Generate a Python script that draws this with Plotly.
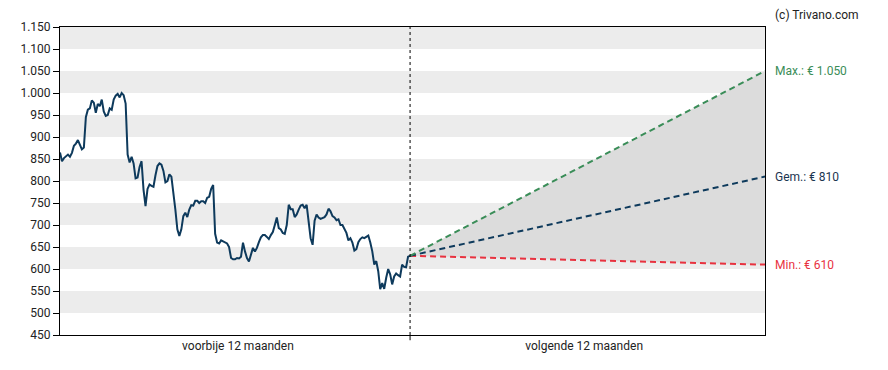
import plotly.graph_objects as go

# ---- data ----
past_prices = [
    865, 845, 852, 857, 860, 855, 864, 880, 885, 893, 884, 872, 876, 945, 962, 965,
    983, 978, 955, 975, 970, 985, 958, 948, 950, 965, 962, 985, 994, 998, 990, 1000,
    995, 976, 860, 842, 855, 840, 806, 808, 832, 845, 780, 743, 782, 792, 789, 787,
    813, 834, 840, 837, 823, 797, 800, 815, 810, 775, 735, 690, 675, 690, 720, 728,
    718, 735, 745, 744, 755, 755, 750, 754, 754, 750, 762, 764, 782, 791, 680, 660,
    658, 665, 663, 660, 658, 650, 625, 622, 622, 625, 624, 628, 660, 640, 625, 617,
    635, 648, 640, 648, 661, 672, 677, 677, 673, 668, 677, 684, 700, 717, 693, 690,
    682, 680, 700, 746, 736, 736, 718, 724, 735, 744, 746, 738, 746, 706, 670, 655,
    710, 724, 717, 714, 716, 718, 724, 737, 731, 720, 717, 711, 713, 700, 700, 690,
    682, 665, 670, 660, 642, 645, 661, 668, 672, 670, 674, 676, 660, 640, 610, 618,
    595, 554, 568, 555, 580, 600, 588, 565, 583, 590, 586, 583, 610, 605, 604, 628,
    630,
]
past_days = 360          # span of the history, in days
future_days = 365        # forecast horizon, in days
current_price = 630
target_max = 1050
target_avg = 810
target_min = 610

y_ticks = list(range(450, 1151, 50))
x_labels = ["voorbije 12 maanden", "volgende 12 maanden"]
x_label_pos = [-177, 179]

label_max = "Max.: € 1.050"
label_avg = "Gem.: € 810"
label_min = "Min.: € 610"
copyright_text = "(c) Trivano.com"

# ---- styling ----
NAVY = "#0e3a5c"
GREEN = "#3a8d58"
RED = "#e8323f"
BAND = "#ececec"
FILL = "#dcdcdc"
FONT = "Roboto"

n = len(past_prices)
past_x = [-past_days + past_days * i / (n - 1) for i in range(n)]

fig = go.Figure()

# forecast range fill
fig.add_trace(go.Scatter(
    x=[0, future_days, future_days, 0],
    y=[current_price, target_max, target_min, current_price],
    fill="toself", fillcolor=FILL, line=dict(width=0),
    mode="lines", hoverinfo="skip", showlegend=False,
))

# forecast lines
for target, col in [(target_min, RED), (target_avg, NAVY), (target_max, GREEN)]:
    fig.add_trace(go.Scatter(
        x=[0, future_days], y=[current_price, target],
        mode="lines", line=dict(color=col, width=2, dash="6px,4px"),
        showlegend=False, hoverinfo="skip",
    ))

# price history
fig.add_trace(go.Scatter(
    x=past_x, y=past_prices, mode="lines",
    line=dict(color=NAVY, width=2), showlegend=False,
))

shapes = []
# alternating bands
for lo, hi in zip(y_ticks[1::2], y_ticks[2::2]):
    shapes.append(dict(type="rect", xref="paper", yref="y", x0=0, x1=1, y0=lo, y1=hi,
                       fillcolor=BAND, line=dict(width=0), layer="below"))
# divider (today)
shapes.append(dict(type="line", xref="x", yref="paper", x0=0, x1=0, y0=0, y1=1,
                   line=dict(color="black", width=1, dash="dot"), layer="above"))
shapes.append(dict(type="line", xref="x", yref="paper", x0=0, x1=0, y0=0, y1=-0.017,
                   line=dict(color="black", width=1), layer="above"))

annotations = [
    dict(x=1, xref="paper", y=target_max, yref="y", text=label_max, showarrow=False,
         xanchor="left", xshift=8, font=dict(color=GREEN, size=12, family=FONT)),
    dict(x=1, xref="paper", y=target_avg, yref="y", text=label_avg, showarrow=False,
         xanchor="left", xshift=8, font=dict(color="#1c3550", size=12, family=FONT)),
    dict(x=1, xref="paper", y=target_min, yref="y", text=label_min, showarrow=False,
         xanchor="left", xshift=8, font=dict(color=RED, size=12, family=FONT)),
    dict(x=1, xref="paper", y=1, yref="paper", text=copyright_text, showarrow=False,
         xanchor="left", yanchor="middle", xshift=8, yshift=12,
         font=dict(color="#222222", size=12, family=FONT)),
]

fig.update_layout(
    width=880, height=362,
    margin=dict(l=47, r=123, t=12, b=35),
    paper_bgcolor="white", plot_bgcolor="white",
    separators=",.",
    font=dict(family=FONT, size=12, color="#222222"),
    shapes=shapes, annotations=annotations,
    showlegend=False,
)
fig.update_xaxes(
    range=[-past_days, future_days], tickvals=x_label_pos, ticktext=x_labels,
    ticks="", showgrid=False, zeroline=False,
    showline=True, linecolor="black", linewidth=1, mirror=True,
    tickfont=dict(size=12, color="#222222"),
)
fig.update_yaxes(
    range=[450, 1150], tickvals=y_ticks, tickformat=",d",
    ticks="outside", ticklen=6, tickcolor="black",
    showgrid=False, zeroline=False,
    showline=True, linecolor="black", linewidth=1, mirror=True,
    tickfont=dict(size=12, color="#222222"),
)

fig.write_html("out.html")
